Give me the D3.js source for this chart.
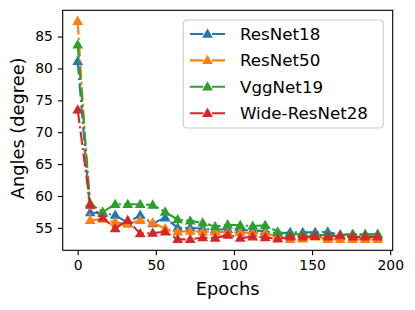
<!DOCTYPE html>
<html>
<head>
<meta charset="utf-8">
<script src="https://cdn.jsdelivr.net/npm/d3@7"></script>
<style>
  body { margin: 0; background: #fff; }
  text { font-family: "DejaVu Sans", sans-serif; fill: #000; }
</style>
</head>
<body>
<div id="chart"></div>
<script>
let epochs = [0, 8, 16, 24, 32, 40, 48, 56, 64, 72, 80, 88, 96, 104, 112, 120, 128, 136, 144, 152, 160, 168, 176, 184, 192];

let resnet18 = [81.1, 57.4, 57.3, 57.0, 55.8, 57.0, 55.7, 56.6, 55.0, 55.0, 54.9, 54.7, 54.8, 54.7, 54.6, 54.5, 54.1, 54.3, 54.3, 54.3, 54.4, 53.9, 54.0, 54.0, 54.0];
let resnet50 = [87.4, 56.2, 56.4, 55.9, 55.6, 56.2, 55.8, 54.9, 54.4, 54.5, 54.4, 54.4, 54.3, 54.3, 54.2, 54.2, 53.6, 53.2, 53.3, 53.6, 53.2, 53.2, 53.2, 53.2, 53.2];
let vggnet19 = [83.7, 58.8, 57.5, 58.7, 58.7, 58.7, 58.6, 57.5, 56.3, 56.1, 55.8, 55.2, 55.5, 55.4, 55.3, 55.4, 54.4, 54.0, 54.0, 53.9, 53.9, 53.9, 54.0, 53.9, 54.0];
let wideresnet28 = [73.5, 58.6, 56.6, 54.9, 56.2, 54.1, 54.2, 54.4, 53.2, 53.2, 53.5, 53.4, 53.9, 53.4, 53.6, 53.5, 53.3, 53.6, 53.6, 53.7, 53.6, 53.8, 53.6, 53.6, 53.6];

let seriesNames = ["ResNet18", "ResNet50", "VggNet19", "Wide-ResNet28"];
let seriesValues = [resnet18, resnet50, vggnet19, wideresnet28];
let xTicks = [0, 50, 100, 150, 200];
let yTicks = [55, 60, 65, 70, 75, 80, 85];

let width = 415, height = 310;
let margin = {left: 62.7, right: 22.3, top: 10.3, bottom: 59.7};
let plotW = width - margin.left - margin.right,
    plotH = height - margin.top - margin.bottom;

let color = d3.scaleOrdinal()
    .domain(seriesNames)
    .range(["#1f77b4", "#ff7f0e", "#2ca02c", "#d62728"]);

// matplotlib style 5% padding around the data
let xExt = d3.extent(epochs);
let xPad = (xExt[1] - xExt[0]) * 0.05;
let allVals = d3.merge(seriesValues);
let yExt = d3.extent(allVals);
let yPad = (yExt[1] - yExt[0]) * 0.05;

let x = d3.scaleLinear().domain([xExt[0] - xPad, xExt[1] + xPad]).range([0, plotW]);
let y = d3.scaleLinear().domain([yExt[0] - yPad, yExt[1] + yPad]).range([plotH, 0]);

let svg = d3.select("#chart")
    .append("svg")
    .attr("width", width)
    .attr("height", height)
    .append("g")
    .attr("transform", `translate(${margin.left},${margin.top})`);

let dash = "13.3,3.3,2.1,3.3";
let tri = d3.symbol().type(d3.symbolTriangle).size(30);

// axes
let xAxis = svg.append("g")
    .attr("transform", `translate(0,${plotH})`)
    .call(d3.axisBottom(x).tickValues(xTicks).tickSizeOuter(0).tickSize(4.9).tickPadding(4.9));
let yAxis = svg.append("g")
    .call(d3.axisLeft(y).tickValues(yTicks).tickSizeOuter(0).tickSize(4.9).tickPadding(4.9));

[xAxis, yAxis].forEach(function(a) {
    a.select(".domain").remove();
    a.selectAll("line").attr("stroke", "#000").attr("stroke-width", 1.1);
    a.selectAll("text")
        .style("font-family", "DejaVu Sans")
        .style("font-size", "13.9px")
        .attr("fill", "#000");
});

// lines + markers
let line = d3.line()
    .x(function(d, i) { return x(epochs[i]); })
    .y(function(d) { return y(d); });

seriesValues.forEach(function(vals, k) {
    let c = color(seriesNames[k]);
    let g = svg.append("g");
    g.append("path")
        .datum(vals)
        .attr("d", line)
        .attr("fill", "none")
        .attr("stroke", c)
        .attr("stroke-width", 2.1)
        .attr("stroke-dasharray", dash);
    g.selectAll(".mk")
        .data(vals)
        .enter()
        .append("path")
        .attr("class", "mk")
        .attr("d", tri)
        .attr("transform", function(d, i) { return `translate(${x(epochs[i])},${y(d) + 0.6})`; })
        .attr("fill", c)
        .attr("stroke", c)
        .attr("stroke-width", 1.4);
});

// frame
svg.append("rect")
    .attr("width", plotW)
    .attr("height", plotH)
    .attr("fill", "none")
    .attr("stroke", "#000")
    .attr("stroke-width", 1.1);

// axis labels
svg.append("text")
    .attr("x", plotW / 2)
    .attr("y", plotH + 45)
    .style("text-anchor", "middle")
    .style("font-size", "17.8px")
    .text("Epochs");

svg.append("text")
    .attr("transform", `translate(${-38.5},${plotH / 2 - 2}) rotate(-90)`)
    .style("text-anchor", "middle")
    .style("font-size", "17.8px")
    .text("Angles (degree)");

// legend
let legend = svg.append("g").attr("transform", `translate(${183.3 - margin.left},${20 - margin.top})`);
legend.append("rect")
    .attr("width", 200)
    .attr("height", 108)
    .attr("rx", 3.5)
    .attr("fill", "#fff")
    .attr("fill-opacity", 0.8)
    .attr("stroke", "#cccccc")
    .attr("stroke-width", 1.1);

seriesNames.forEach(function(name, k) {
    let rowY = 14 + k * 26.4;
    let c = color(name);
    legend.append("line")
        .attr("x1", 6.7).attr("x2", 41.7)
        .attr("y1", rowY).attr("y2", rowY)
        .attr("stroke", c)
        .attr("stroke-width", 2.1)
        .attr("stroke-dasharray", dash);
    legend.append("path")
        .attr("d", tri)
        .attr("transform", `translate(24.2,${rowY + 0.6})`)
        .attr("fill", c)
        .attr("stroke", c)
        .attr("stroke-width", 1.4);
    legend.append("text")
        .attr("x", 56.7)
        .attr("y", rowY)
        .attr("dy", "0.36em")
        .style("font-size", "16.7px")
        .text(name);
});
</script>
</body>
</html>
